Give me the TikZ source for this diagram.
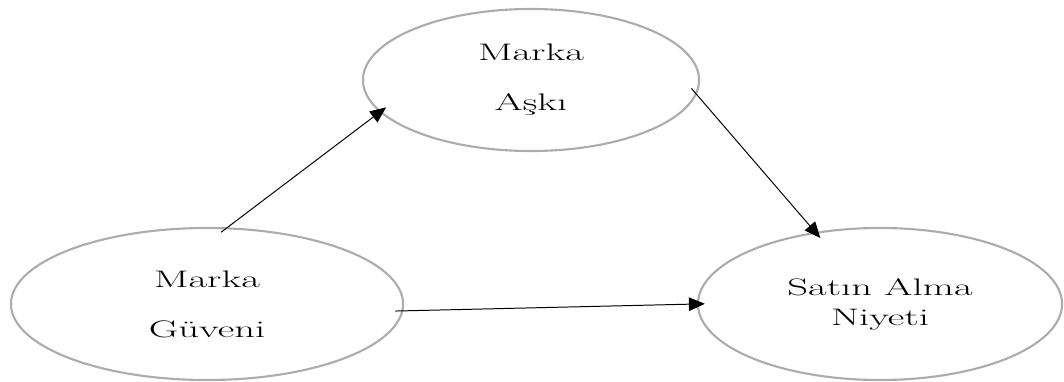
\documentclass[tikz,border=0pt]{standalone}
\usepackage{tikz}
\usetikzlibrary{shapes,arrows.meta}
\newcommand{\genis}[1]{\scalebox{1.7}[1]{#1}}

\begin{document}
\begin{tikzpicture}[x=0.025cm,y=-0.025cm]
\tikzstyle{oval}=[ellipse,draw=gray!65,line width=1.5pt,inner sep=0pt,align=center,text=black]
\tikzstyle{ok}=[-{Triangle[length=4mm,width=3.4mm]},line width=0.7pt,shorten >=-2mm,shorten <=-2mm]
\useasboundingbox (0,0) rectangle (1064,381);
\node[oval,minimum width=8.4cm,minimum height=3.55cm,font=\fontsize{17}{35.6}\selectfont] (ask) at (531,80) {\genis{Marka}\\\genis{Aşkı}};
\node[oval,minimum width=9.8cm,minimum height=3.8cm,font=\fontsize{17}{35.6}\selectfont] (guven) at (207,304) {\genis{Marka}\\\genis{Güveni}};
\node[oval,minimum width=9.1cm,minimum height=3.8cm,font=\fontsize{17}{21.3}\selectfont] (niyet) at (880,304) {\genis{Satın Alma}\\\genis{Niyeti}};
\draw[ok] (guven.75) -- (ask.192);
\draw[ok] (ask.-5) -- (niyet.132);
\draw[ok] (guven.-2.5) -- (niyet.180);
\end{tikzpicture}
\end{document}
